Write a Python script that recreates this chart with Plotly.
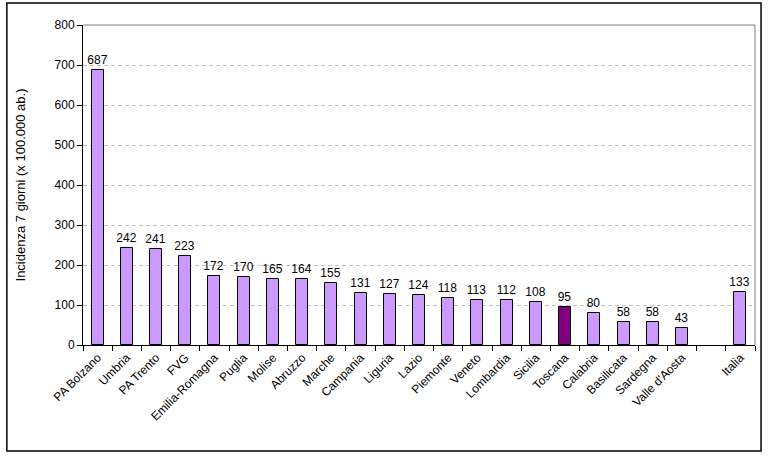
import plotly.graph_objects as go

regions = ["PA Bolzano", "Umbria", "PA Trento", "FVG", "Emilia-Romagna", "Puglia", "Molise",
           "Abruzzo", "Marche", "Campania", "Liguria", "Lazio", "Piemonte", "Veneto",
           "Lombardia", "Sicilia", "Toscana", "Calabria", "Basilicata", "Sardegna",
           "Valle d'Aosta", "", "Italia"]
values = [687, 242, 241, 223, 172, 170, 165, 164, 155, 131, 127, 124, 118, 113, 112, 108,
          95, 80, 58, 58, 43, None, 133]
highlight = "Toscana"

x = list(range(len(regions)))
colors = ["#800080" if r == highlight else "#CC99FF" for r in regions]
texts = ["" if v is None else str(v) for v in values]

fig = go.Figure(go.Bar(
    x=x, y=values, width=0.41,
    marker=dict(color=colors, line=dict(color="black", width=1)),
    text=texts, textposition="outside", cliponaxis=False, constraintext="none",
    textfont=dict(family="Arial", size=12, color="black"),
))

n = len(regions)
fig.update_layout(
    width=772, height=458,
    margin=dict(l=83, r=17, t=25, b=113),
    paper_bgcolor="white", plot_bgcolor="white",
    showlegend=False,
    font=dict(family="Arial", size=12, color="black"),
    bargap=0,
    xaxis=dict(
        range=[-0.5, n - 0.5], tickmode="array", tickvals=x, ticktext=regions,
        tickangle=-45, ticks="", showgrid=False, zeroline=False,
        showline=True, linecolor="black", linewidth=1,
        tickfont=dict(family="Arial", size=12),
        minor=dict(tickmode="array", tickvals=[i - 0.5 for i in range(n + 1)],
                   ticks="outside", ticklen=5, tickcolor="black", showgrid=False),
    ),
    yaxis=dict(
        range=[0, 800], dtick=100, ticks="outside", ticklen=5, tickcolor="black",
        showline=True, linecolor="black", linewidth=1,
        showgrid=True, gridcolor="#C0C0C0", griddash="4px,3px", gridwidth=1,
        zeroline=False,
        title=dict(text="Incidenza 7 giorni (x 100.000 ab.)", font=dict(size=13), standoff=26),
        tickfont=dict(family="Arial", size=12),
    ),
    shapes=[
        dict(type="line", xref="paper", yref="paper", x0=0, x1=1, y0=1, y1=1,
             line=dict(color="#808080", width=1)),
        dict(type="line", xref="paper", yref="paper", x0=1, x1=1, y0=0, y1=1,
             line=dict(color="#808080", width=1)),
        dict(type="rect", xref="paper", yref="paper", x0=-0.1133, x1=1.009,
             y0=-0.33125, y1=1.06875, line=dict(color="black", width=1.5)),
    ],
)

fig.write_html("out.html")
